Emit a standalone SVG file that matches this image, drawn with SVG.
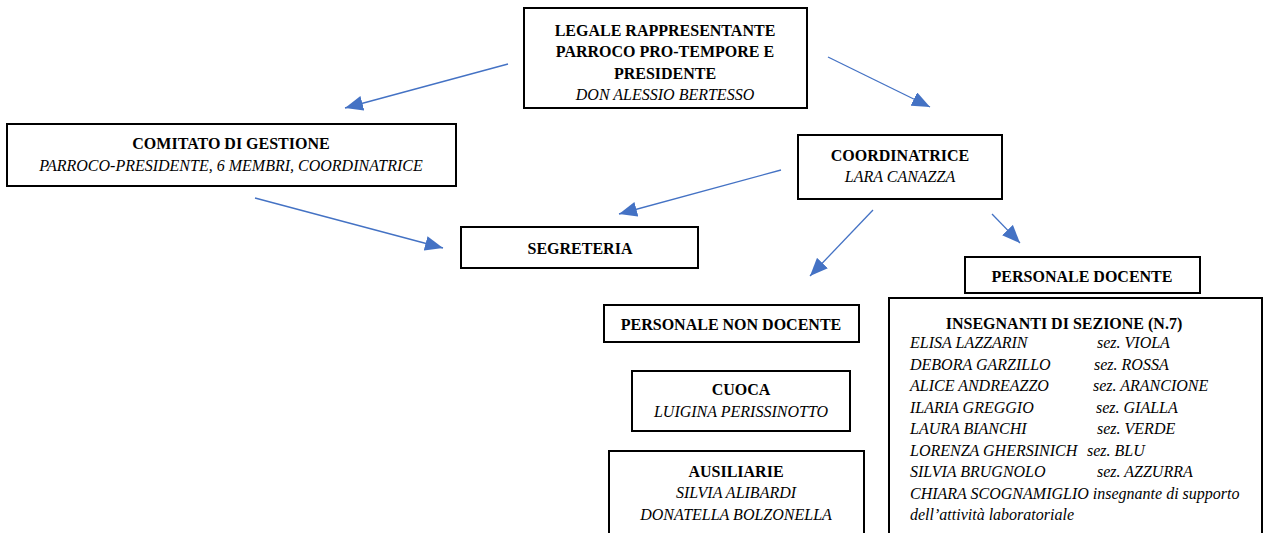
<svg xmlns="http://www.w3.org/2000/svg" width="1264" height="533" viewBox="0 0 1264 533">
<defs>
<style>
.box{fill:#fff;stroke:#000;stroke-width:2}
.b{font-family:"Liberation Serif","Times New Roman",serif;font-weight:bold;font-size:16px;fill:#000}
.i{font-family:"Liberation Serif","Times New Roman",serif;font-style:italic;font-size:16px;fill:#000}
.c{text-anchor:middle}
.conn line{stroke:#4472c4;stroke-width:1.3;marker-end:url(#ah)}
</style>
<marker id="ah" viewBox="0 0 12 10" refX="12" refY="5" markerWidth="18" markerHeight="15" markerUnits="userSpaceOnUse" orient="auto">
<path d="M0,0 L12,5 L0,10 z" fill="#4472c4"/>
</marker>
</defs>
<rect width="1264" height="533" fill="#fff"/>
<g id="legale">
<rect class="box" x="524" y="8" width="283" height="100"/>
<text class="b c" x="665" y="36">LEGALE RAPPRESENTANTE</text>
<text class="b c" x="665" y="57">PARROCO PRO-TEMPORE E</text>
<text class="b c" x="665" y="79">PRESIDENTE</text>
<text class="i c" x="665" y="100">DON ALESSIO BERTESSO</text>
</g>
<g id="comitato">
<rect class="box" x="7" y="124" width="449" height="62"/>
<text class="b c" x="231" y="149">COMITATO DI GESTIONE</text>
<text class="i c" x="231" y="171">PARROCO-PRESIDENTE, 6 MEMBRI, COORDINATRICE</text>
</g>
<g id="coordinatrice">
<rect class="box" x="798" y="135" width="204" height="64"/>
<text class="b c" x="900" y="161">COORDINATRICE</text>
<text class="i c" x="900" y="182">LARA CANAZZA</text>
</g>
<g id="segreteria">
<rect class="box" x="461" y="227" width="237" height="41"/>
<text class="b c" x="580" y="254">SEGRETERIA</text>
</g>
<g id="personale-docente">
<rect class="box" x="965" y="257" width="235" height="36"/>
<text class="b c" x="1082" y="282">PERSONALE DOCENTE</text>
</g>
<g id="personale-non-docente">
<rect class="box" x="604" y="305" width="255" height="37"/>
<text class="b c" x="731" y="330">PERSONALE NON DOCENTE</text>
</g>
<g id="cuoca">
<rect class="box" x="632" y="371" width="218" height="60"/>
<text class="b c" x="741" y="395">CUOCA</text>
<text class="i c" x="741" y="417">LUIGINA PERISSINOTTO</text>
</g>
<g id="ausiliarie">
<rect class="box" x="609" y="451" width="255" height="100"/>
<text class="b c" x="736" y="477">AUSILIARIE</text>
<text class="i c" x="736" y="498">SILVIA ALIBARDI</text>
<text class="i c" x="736" y="520">DONATELLA BOLZONELLA</text>
</g>
<g id="insegnanti">
<rect class="box" x="889" y="298" width="373" height="260"/>
<text class="b c" x="1064" y="329">INSEGNANTI DI SEZIONE (N.7)</text>
<text class="i" x="910" y="348">ELISA LAZZARIN</text><text class="i" x="1097" y="348">sez. VIOLA</text>
<text class="i" x="910" y="370">DEBORA GARZILLO</text><text class="i" x="1094" y="370">sez. ROSSA</text>
<text class="i" x="910" y="391">ALICE ANDREAZZO</text><text class="i" x="1093" y="391">sez. ARANCIONE</text>
<text class="i" x="910" y="413">ILARIA GREGGIO</text><text class="i" x="1096" y="413">sez. GIALLA</text>
<text class="i" x="910" y="434">LAURA BIANCHI</text><text class="i" x="1097" y="434">sez. VERDE</text>
<text class="i" x="910" y="456">LORENZA GHERSINICH</text><text class="i" x="1087" y="456">sez. BLU</text>
<text class="i" x="910" y="477">SILVIA BRUGNOLO</text><text class="i" x="1097" y="477">sez. AZZURRA</text>
<text class="i" x="910" y="499">CHIARA SCOGNAMIGLIO insegnante di supporto</text>
<text class="i" x="910" y="520">dell’attività laboratoriale</text>
</g>
<g id="connectors" class="conn">
<line x1="508" y1="64" x2="345" y2="108"/>
<line x1="828" y1="57" x2="930" y2="107"/>
<line x1="255" y1="198" x2="443" y2="248"/>
<line x1="781" y1="170" x2="619" y2="214"/>
<line x1="873" y1="210" x2="810" y2="276"/>
<line x1="992" y1="214" x2="1020" y2="243"/>
</g>
</svg>
